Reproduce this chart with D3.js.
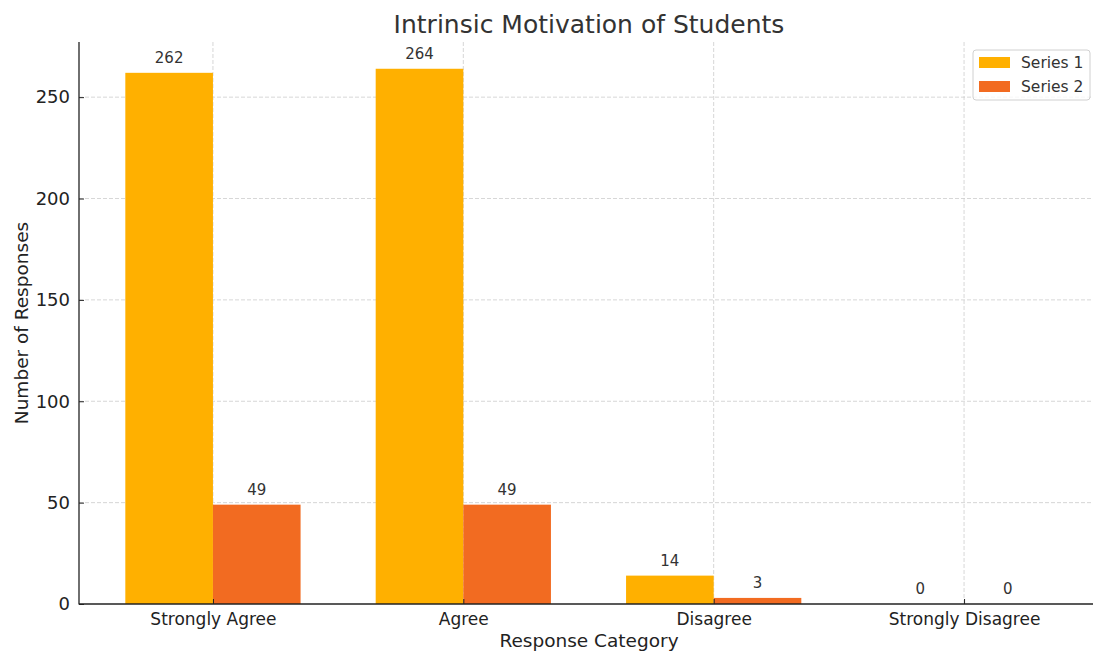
<!DOCTYPE html>
<meta charset="utf-8">
<html>
<body style="margin:0;background:#fff">
<script src="https://d3js.org/d3.v7.min.js"></script>
<script>
// chart data
var categories = ["Strongly Agree", "Agree", "Disagree", "Strongly Disagree"];
var series1 = [262, 264, 14, 0];
var series2 = [49, 49, 3, 0];
var seriesNames = ["Series 1", "Series 2"];
var yTicks = [0, 50, 100, 150, 200, 250];

var W = 1093, H = 651;
var mLeft = 79, mRight = 1098, mTop = 42, mBottom = 604;
var colors = ["#FFB000", "#F26B21"];
var font = "DejaVu Sans, sans-serif";

var svg = d3.select("body").append("svg")
    .attr("width", W).attr("height", H)
    .style("font-family", font);

var x = d3.scaleLinear().domain([-0.535, 3.535]).range([mLeft, mRight]);
var y = d3.scaleLinear().domain([0, 277.2]).range([mBottom, mTop]);
var bw = 0.35;

// grid lines behind bars
svg.append("g").selectAll("line").data(yTicks.slice(1)).enter().append("line")
    .attr("x1", mLeft).attr("x2", mRight)
    .attr("y1", function (d) { return y(d); }).attr("y2", function (d) { return y(d); })
    .style("stroke", "#cccccc").style("stroke-dasharray", "4,2").style("stroke-width", 0.8);
svg.append("g").selectAll("line").data(categories).enter().append("line")
    .attr("x1", function (d, i) { return x(i); }).attr("x2", function (d, i) { return x(i); })
    .attr("y1", mTop).attr("y2", mBottom)
    .style("stroke", "#cccccc").style("stroke-dasharray", "4,2").style("stroke-width", 0.8);

// bars
[series1, series2].forEach(function (vals, s) {
  var off = s === 0 ? -bw : 0;
  svg.append("g").selectAll("rect").data(vals).enter().append("rect")
      .attr("x", function (d, i) { return x(i + off); })
      .attr("width", x(bw) - x(0))
      .attr("y", function (d) { return y(d); })
      .attr("height", function (d) { return mBottom - y(d); })
      .style("fill", colors[s]);
  svg.append("g").selectAll("text").data(vals).enter().append("text")
      .attr("x", function (d, i) { return x(i + off + bw / 2); })
      .attr("y", function (d) { return y(d) - 10; })
      .attr("text-anchor", "middle")
      .style("font-size", "15px").style("fill", "#333")
      .text(function (d) { return d; });
});

// axes
var yAxis = d3.axisLeft(y).tickValues(yTicks).tickSizeInner(-5).tickSizeOuter(0).tickPadding(9);
var gy = svg.append("g").attr("transform", "translate(" + mLeft + ",0)").call(yAxis);
gy.select(".domain").remove();
gy.selectAll("text").style("font-size", "18px").style("fill", "#222").style("font-family", font);
gy.selectAll("line").style("stroke", "#222");

var xAxis = d3.axisBottom(x).tickValues([0, 1, 2, 3])
    .tickFormat(function (d) { return categories[d]; })
    .tickSizeInner(-5).tickSizeOuter(0).tickPadding(9);
var gx = svg.append("g").attr("transform", "translate(0," + mBottom + ")").call(xAxis);
gx.select(".domain").remove();
gx.selectAll("text").style("font-size", "17px").style("fill", "#222").style("font-family", font);
gx.selectAll("line").style("stroke", "#222");

svg.append("line").attr("x1", mLeft).attr("x2", mLeft).attr("y1", mTop).attr("y2", mBottom + 0.5)
    .style("stroke", "#222").style("stroke-width", 1.3);
svg.append("line").attr("x1", mLeft).attr("x2", mRight).attr("y1", mBottom).attr("y2", mBottom)
    .style("stroke", "#222").style("stroke-width", 1.3);

// titles
svg.append("text").attr("x", 589).attr("y", 33).attr("text-anchor", "middle")
    .style("font-size", "25px").style("fill", "#333").text("Intrinsic Motivation of Students");
svg.append("text").attr("x", 589).attr("y", 647).attr("text-anchor", "middle")
    .style("font-size", "18.5px").style("fill", "#222").text("Response Category");
svg.append("text").attr("transform", "translate(28,323) rotate(-90)").attr("text-anchor", "middle")
    .style("font-size", "18.5px").style("fill", "#222").text("Number of Responses");

// legend
var lg = svg.append("g").attr("transform", "translate(973,50)");
lg.append("rect").attr("width", 117).attr("height", 50).attr("rx", 3)
    .style("fill", "#fff").style("fill-opacity", 0.8).style("stroke", "#d0d0d0");
seriesNames.forEach(function (n, i) {
  lg.append("rect").attr("x", 6).attr("y", 7 + i * 24).attr("width", 31).attr("height", 11)
      .style("fill", colors[i]);
  lg.append("text").attr("x", 48).attr("y", 18 + i * 24)
      .style("font-size", "15.5px").style("fill", "#333").text(n);
});
</script>
</body>
</html>
